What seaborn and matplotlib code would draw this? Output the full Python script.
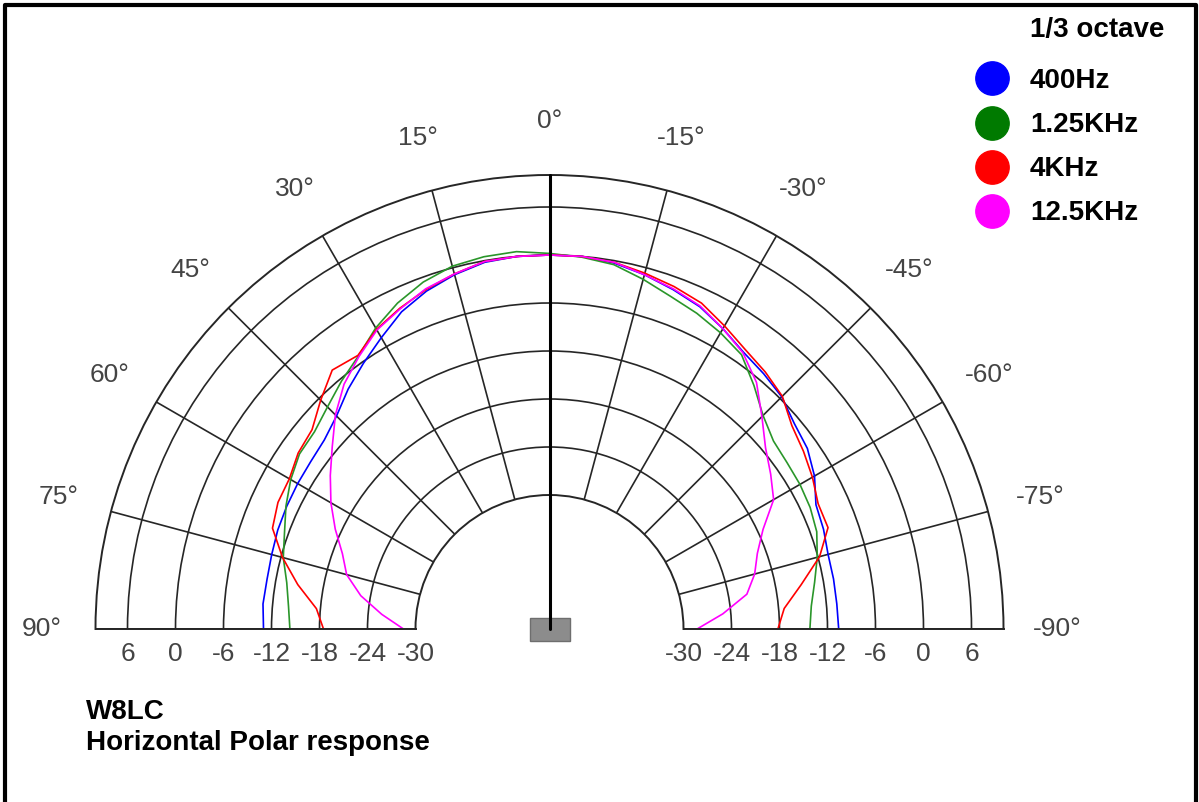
import numpy as np
import pandas as pd
import matplotlib
matplotlib.use("Agg")
import matplotlib.pyplot as plt
import matplotlib.transforms as mtransforms
from matplotlib.lines import Line2D
from matplotlib.patches import Rectangle
import seaborn as sns

# Measured horizontal polar response, dB relative to on-axis (angle >0 = left)
angles = list(range(-90, 95, 5))
db_400 = [-10.6, -10.7, -10.7, -10.7, -10.3, -10.0, -8.5, -7.4, -6.8, -5.7,
          -5.1, -4.5, -3.4, -2.3, -1.6, -0.9, -0.3, 0.0, 0.0, 0.0,
          -0.2, -0.9, -1.8, -3.0, -4.7, -6.2, -7.6, -9.1, -10.0, -10.3,
          -10.4, -10.5, -10.6, -10.8, -10.9, -10.8, -11.0]
db_1250 = [-14.2, -13.9, -13.1, -12.1, -11.2, -10.8, -10.6, -10.5, -10.2, -9.0,
           -7.0, -4.9, -4.0, -3.2, -2.5, -1.5, -0.5, -0.1, 0.2, 0.6,
           0.5, 0.2, -0.6, -1.8, -3.3, -5.1, -6.3, -7.5, -8.4, -8.6,
           -9.4, -10.4, -11.5, -12.3, -13.4, -14.0, -14.3]
db_4k = [-18.2, -17.3, -14.8, -11.8, -9.7, -9.7, -8.8, -8.0, -7.2, -5.6,
         -4.8, -4.1, -3.0, -1.8, -1.2, -0.7, -0.2, 0.0, 0.0, 0.0,
         -0.1, -0.8, -1.6, -2.5, -3.5, -5.0, -4.5, -6.3, -8.0, -8.4,
         -9.2, -9.3, -9.9, -12.2, -14.8, -17.5, -18.5]
db_12k5 = [-28.3, -25.0, -21.7, -20.2, -19.1, -17.3, -14.4, -13.0, -11.5, -9.2,
           -6.5, -4.6, -3.4, -2.2, -1.5, -0.9, -0.2, 0.0, 0.0, 0.0,
           -0.1, -0.8, -1.5, -2.6, -3.6, -5.2, -6.8, -8.9, -11.3, -13.3,
           -15.2, -17.2, -19.2, -20.5, -22.8, -25.7, -28.5]

bands = ["400Hz", "1.25KHz", "4KHz", "12.5KHz"]
line_colors = ["#0000ff", "#2a962a", "#ff0000", "#ff00ff"]
dot_colors = ["#0000ff", "#007a00", "#ff0000", "#ff00ff"]
r_labels = [6, 0, -6, -12, -18, -24, -30]
theta_labels = list(range(-90, 91, 15))

R_ORIGIN = -46.75

# long-form table for seaborn
df = pd.concat([
    pd.DataFrame({"theta": np.deg2rad(angles), "db": vals, "band": b})
    for b, vals in zip(bands, [db_400, db_1250, db_4k, db_12k5])
])

sns.set_style("white")
plt.rcParams["font.family"] = ["Liberation Sans", "DejaVu Sans"]

fig = plt.figure(figsize=(11.99, 8.02), dpi=100)
# square box: matplotlib fits the (unrotated) half wedge, so give it 2R height
ax = fig.add_axes([95.5 / 1199, -54 / 802, 908 / 1199, 908 / 802], projection="polar")

sns.lineplot(data=df, x="theta", y="db", hue="band", palette=dict(zip(bands, line_colors)),
             linewidth=1.2, estimator=None, legend=False, ax=ax)
ax.set_xlabel("")
ax.set_ylabel("")

ax.set_theta_zero_location("N")
ax.set_thetamin(-90)
ax.set_thetamax(90)
ax.set_rlim(-30, 10)
ax.set_rorigin(R_ORIGIN)

grid_col = "#262626"
ax.set_rticks([-24, -18, -12, -6, 0, 6])
ax.set_yticklabels([])
ax.set_thetagrids(theta_labels, labels=[f"{t}°" for t in theta_labels])
ax.grid(True, color=grid_col, linewidth=1.2)
ax.tick_params(axis="x", pad=32, labelsize=19, labelcolor="#444444", length=0)
for sp in ax.spines.values():
    sp.set_color(grid_col)
    sp.set_linewidth(1.4)

# on-axis reference line down to the speaker
ax.plot([0, 0], [R_ORIGIN + 0.01, 10], color="black", lw=2.2, clip_on=False, zorder=3)
spk = Rectangle((-0.2, -0.125), 0.4, 0.23, facecolor="#8c8c8c", edgecolor="#6e6e6e", lw=1,
                transform=fig.dpi_scale_trans + mtransforms.ScaledTranslation(0, R_ORIGIN + 0.01, ax.transData),
                clip_on=False, zorder=2.5)
ax.add_artist(spk)

# dB labels along both baselines
lab_tr = mtransforms.offset_copy(ax.transData, fig=fig, y=-18, units="points")
for v in r_labels:
    for side in (90, -90):
        ax.text(np.deg2rad(side), v, f"{v}", transform=lab_tr, ha="center", va="center",
                fontsize=19, color="#444444", clip_on=False)

# legend
handles = [Line2D([], [], marker="o", ls="", markersize=24, markerfacecolor=c, markeredgecolor=c)
           for c in dot_colors]
leg = fig.legend(handles, bands, loc="upper left", bbox_to_anchor=(0.8157, 0.915), frameon=False,
                 prop={"weight": "bold", "size": 20}, handlelength=1.0, handletextpad=0.87,
                 labelspacing=0.65, borderpad=0, borderaxespad=0)
for t in leg.get_texts():
    t.set_color("black")
fig.text(1030 / 1199, 1 - 30 / 802, "1/3 octave", ha="left", va="center", fontsize=20,
         fontweight="bold", color="black")

fig.text(86 / 1199, 1 - 712 / 802, "W8LC", ha="left", va="center", fontsize=20,
         fontweight="bold", color="black")
fig.text(86 / 1199, 1 - 743 / 802, "Horizontal Polar response", ha="left", va="center",
         fontsize=20, fontweight="bold", color="black")

# frame (left, top, right)
fig.add_artist(Line2D([0.0042, 0.0042, 0.9975, 0.9975], [0, 0.9938, 0.9938, 0],
                      transform=fig.transFigure, color="black", lw=3))

fig.savefig("out.png", dpi=100, facecolor="white")
